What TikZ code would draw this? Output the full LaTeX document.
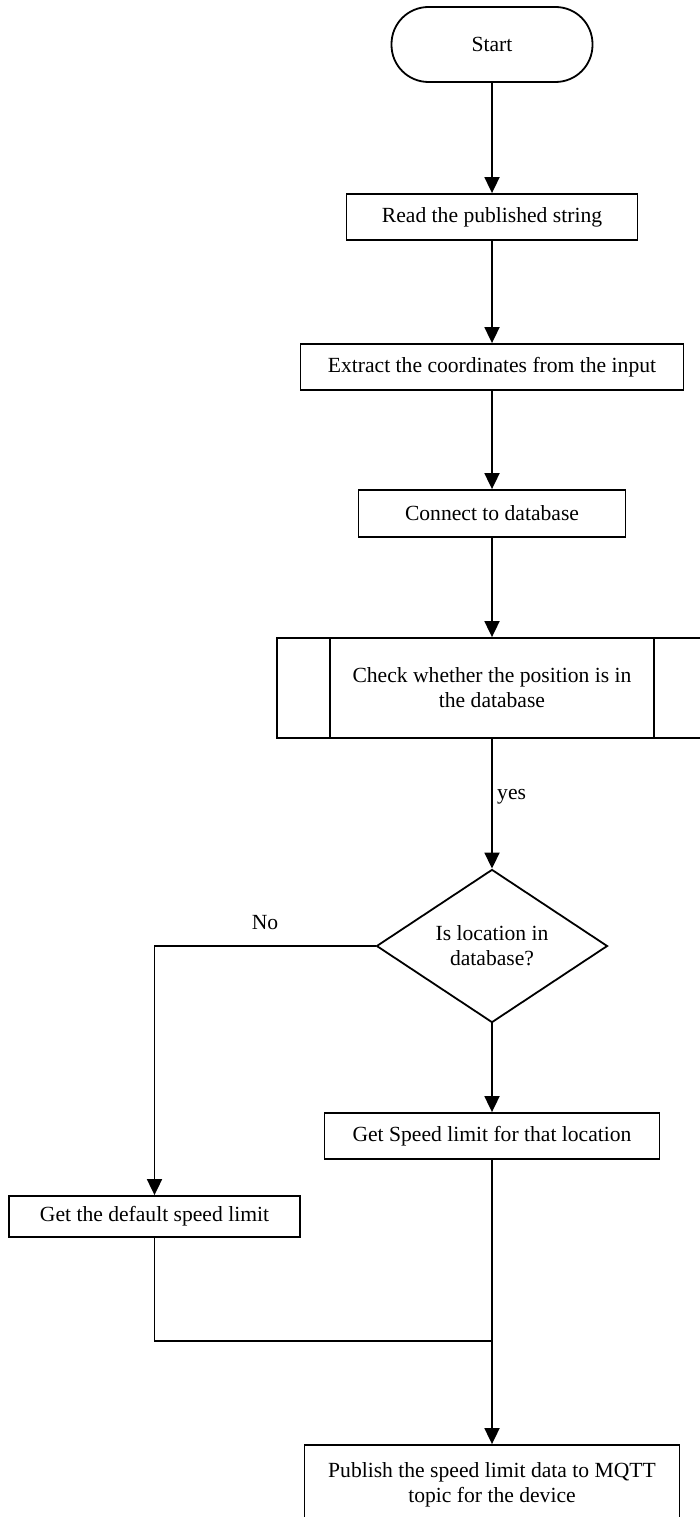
\documentclass[tikz,border=0pt]{standalone}
\usepackage{fontspec}
\setmainfont{Liberation Serif}
\usetikzlibrary{shapes.geometric,arrows.meta}
\begin{document}
\begin{tikzpicture}[x=1pt,y=-1pt,
  every node/.style={font=\fontsize{21.6}{25}\selectfont},
  flowline/.style={line width=1.8pt},
  arrowline/.style={flowline,-{Triangle[length=16pt,width=15pt]}},
  procbox/.style={draw,line width=1.8pt,inner sep=0pt,align=center},
  decision/.style={draw,diamond,line width=1.8pt,inner sep=0pt,align=center}
]
\clip (0,0) rectangle (700,1517);
\fill[white] (0,0) rectangle (700,1517);

% main column of steps
\node[procbox,rounded corners=37pt,minimum width=201pt,minimum height=75pt] (start) at (492,44.5) {Start};
\node[procbox,minimum width=291pt,minimum height=46pt] (read) at (492,217) {Read the published string};
\node[procbox,minimum width=383pt,minimum height=46pt] (extract) at (492,367) {Extract the coordinates from the input};
\node[procbox,minimum width=267pt,minimum height=47pt] (connect) at (492,513.5) {Connect to database};
\node[procbox,minimum width=430pt,minimum height=100pt] (check) at (492,688) {Check whether the position is in\\the database};
\draw[flowline] ([xshift=54pt]check.north west) -- ([xshift=54pt]check.south west);
\draw[flowline] ([xshift=-54pt]check.north east) -- ([xshift=-54pt]check.south east);
\node[decision,minimum width=231pt,minimum height=130pt] (decide) at (492,946) {Is location in\\database?};
\node[procbox,minimum width=335pt,minimum height=46pt] (speed) at (492,1136) {Get Speed limit for that location};
\node[procbox,minimum width=291pt,minimum height=41pt] (default) at (154.5,1216.5) {Get the default speed limit};
\node[procbox,minimum width=375pt,minimum height=80pt] (publish) at (492,1485) {Publish the speed limit data to MQTT\\topic for the device};

% branch labels
\node[anchor=west,inner sep=0pt] (yeslabel) at (497,797) {yes};
\node[inner sep=0pt] (nolabel) at (265,923) {No};

% connectors
\draw[arrowline] (start) -- (read);
\draw[arrowline] (read) -- (extract);
\draw[arrowline] (extract) -- (connect);
\draw[arrowline] (connect) -- (check);
\draw[arrowline] (check) -- (decide);
\draw[arrowline] (decide) -- (speed);
\draw[arrowline] (decide.west) -| (default.north);
\coordinate (join) at (492,1341);
\draw[flowline] (default.south) |- (join);
\draw[flowline] (speed.south) -- (join);
\draw[arrowline] (join) -- (publish.north);
\end{tikzpicture}
\end{document}
